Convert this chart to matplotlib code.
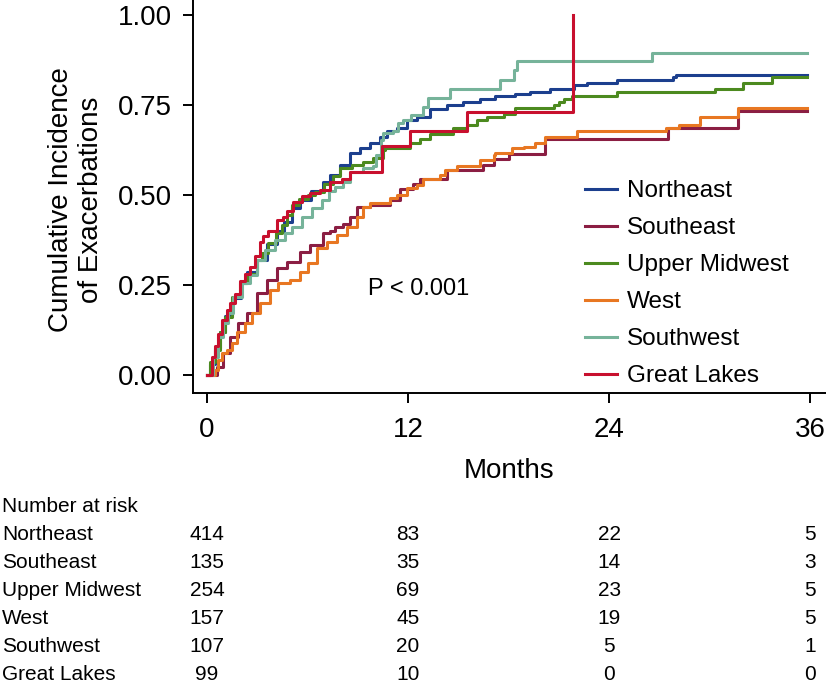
import numpy as np
import matplotlib
matplotlib.use("Agg")
import matplotlib.pyplot as plt
from matplotlib.transforms import blended_transform_factory

plt.rcParams['font.family'] = ['Liberation Sans', 'DejaVu Sans']

# ---------------- data ----------------
END_T = 35.8

ne_t = [0, 0.2, 0.5, 0.8, 1.1, 1.5, 2.0, 2.4, 3.0, 3.6, 4.2, 4.6, 5.1, 5.55, 6.2, 6.94, 7.34, 7.94,
        8.54, 9.13, 9.73, 10.33, 10.73, 11.33, 11.92, 12.52, 13.31, 14.31, 15.3, 16.3, 17.2, 18.4,
        19.3, 20.5, 21.9, 22.7, 24.5, 27.8, 28.0]
ne_v = [0, 0.03, 0.075, 0.12, 0.165, 0.215, 0.255, 0.285, 0.32, 0.365, 0.40, 0.425, 0.465, 0.486,
        0.51, 0.537, 0.556, 0.583, 0.616, 0.632, 0.645, 0.662, 0.679, 0.685, 0.708, 0.718, 0.738,
        0.75, 0.759, 0.766, 0.774, 0.78, 0.787, 0.796, 0.805, 0.812, 0.821, 0.827, 0.833]

se_t = [0, 0.58, 0.97, 1.37, 1.87, 2.37, 2.97, 3.56, 4.16, 4.76, 5.55, 6.15, 6.94, 7.34, 7.64, 8.1,
        8.54, 8.94, 9.73, 10.93, 11.5, 12.3, 12.7, 14.3, 16.5, 17.1, 18.0, 20.2, 27.5, 31.7]
se_v = [0, 0.023, 0.06, 0.106, 0.144, 0.171, 0.227, 0.264, 0.296, 0.315, 0.343, 0.361, 0.394, 0.40,
        0.412, 0.42, 0.44, 0.468, 0.472, 0.486, 0.516, 0.532, 0.546, 0.569, 0.583, 0.599, 0.614,
        0.657, 0.685, 0.734]

um_t = [0, 0.2, 0.48, 0.8, 1.07, 1.47, 1.97, 2.37, 2.97, 3.3, 3.66, 4.1, 4.46, 4.8, 5.06, 5.5, 6.0,
        6.45, 7.0, 7.5, 7.94, 8.64, 9.33, 9.93, 10.5, 10.63, 12.12, 12.7, 13.3, 14.7, 15.5, 16.1,
        16.7, 17.7, 18.4, 20.7, 21.0, 21.3, 21.8, 24.5, 30.3, 32.0, 33.7]
um_v = [0, 0.035, 0.07, 0.12, 0.162, 0.218, 0.255, 0.282, 0.319, 0.34, 0.366, 0.395, 0.417, 0.445,
        0.472, 0.49, 0.50, 0.509, 0.53, 0.553, 0.574, 0.583, 0.593, 0.602, 0.625, 0.632, 0.644,
        0.657, 0.669, 0.685, 0.694, 0.708, 0.717, 0.724, 0.741, 0.75, 0.759, 0.768, 0.776, 0.787,
        0.796, 0.812, 0.829]

we_t = [0, 0.48, 0.68, 0.88, 1.2, 1.47, 1.77, 2.27, 2.67, 3.16, 3.76, 4.26, 4.96, 5.55, 6.05, 6.55,
        7.15, 7.74, 8.34, 8.94, 9.33, 9.73, 10.93, 11.33, 11.92, 12.52, 12.9, 13.9, 14.2, 14.9, 16.3,
        17.1, 17.2, 18.2, 18.9, 19.6, 20.2, 22.1, 27.4, 28.2, 29.4, 31.7]
we_v = [0, 0.014, 0.042, 0.06, 0.07, 0.088, 0.12, 0.144, 0.171, 0.199, 0.236, 0.255, 0.264, 0.287,
        0.31, 0.352, 0.37, 0.389, 0.412, 0.44, 0.468, 0.479, 0.491, 0.5, 0.519, 0.528, 0.546, 0.556,
        0.569, 0.58, 0.597, 0.611, 0.616, 0.63, 0.634, 0.645, 0.662, 0.679, 0.685, 0.696, 0.7175,
        0.741]

sw_t = [0, 0.38, 0.68, 0.97, 1.27, 1.57, 2.07, 2.57, 2.97, 3.46, 4.06, 4.66, 5.06, 5.65, 6.25, 6.85,
        7.3, 7.64, 8.1, 8.54, 9.3, 9.9, 10.1, 10.4, 10.5, 11.1, 11.4, 11.7, 12.2, 12.9, 13.2, 14.5,
        17.5, 18.3, 18.5, 26.55]
sw_v = [0, 0.051, 0.106, 0.144, 0.171, 0.218, 0.255, 0.278, 0.319, 0.347, 0.375, 0.394, 0.412, 0.44,
        0.463, 0.486, 0.51, 0.523, 0.537, 0.565, 0.574, 0.58, 0.611, 0.653, 0.672, 0.678, 0.699,
        0.708, 0.722, 0.745, 0.77, 0.796, 0.821, 0.847, 0.872, 0.895]

gl_t = [0, 0.28, 0.48, 0.68, 0.88, 1.18, 1.37, 1.67, 1.97, 2.27, 2.57, 2.87, 3.16, 3.36, 3.66, 4.16,
        4.56, 4.8, 5.15, 5.65, 6.15, 6.75, 7.34, 8.04, 8.54, 10.43, 12.12, 15.5, 21.85]
gl_v = [0, 0.05, 0.08, 0.115, 0.153, 0.18, 0.2, 0.225, 0.26, 0.28, 0.30, 0.33, 0.37, 0.385, 0.40,
        0.43, 0.44, 0.455, 0.48, 0.497, 0.505, 0.514, 0.535, 0.546, 0.565, 0.636, 0.679, 0.731, 1.0]

regions = ["Northeast", "Southeast", "Upper Midwest", "West", "Southwest", "Great Lakes"]
colors = ["#1c3f8e", "#8b1e43", "#4c8a1f", "#e87722", "#76b39a", "#c8102e"]
risk_times = [0, 12, 24, 36]
at_risk = [[414, 83, 22, 5],
           [135, 35, 14, 3],
           [254, 69, 23, 5],
           [157, 45, 19, 5],
           [107, 20, 5, 1],
           [99, 10, 0, 0]]

# ---------------- figure ----------------
W, H = 826, 686
fig = plt.figure(figsize=(W / 100, H / 100), dpi=100)
ax = fig.add_axes([193 / W, 1 - 393 / H, 1 - 193 / W, 393 / H])

series = [(ne_t, ne_v), (se_t, se_v), (um_t, um_v), (we_t, we_v), (sw_t, sw_v), (gl_t, gl_v)]
for (t, v), name, c in zip(series, regions, colors):
    if name == "Great Lakes":      # last subject had an event -> curve jumps to 1
        tt, vv = t, v
    else:
        tt, vv = t + [END_T], v + [v[-1]]
    ax.step(tt, vv, where="post", color=c, lw=2.2, label=name)

ax.set_xlim(-0.84, 36.95)
ax.set_ylim(-0.05, 1.042)
ax.set_xticks(risk_times)
ax.set_yticks([0, 0.25, 0.5, 0.75, 1.0])
ax.set_yticklabels(["%.2f" % y for y in [0, 0.25, 0.5, 0.75, 1.0]])
for s in ["top", "right"]:
    ax.spines[s].set_visible(False)
for s in ["left", "bottom"]:
    ax.spines[s].set_linewidth(1.4)
ax.tick_params(axis="both", length=7, width=1.4, labelsize=20)
ax.tick_params(axis="y", pad=8)
ax.tick_params(axis="x", pad=10)
ax.set_xlabel("Months", fontsize=20, labelpad=11)

fig.text(76 / W, 1 - 200 / H, "Cumulative Incidence\nof Exacerbations", rotation=90,
         ha="center", va="center", multialignment="center", fontsize=20, linespacing=1.15)

ax.text(12.6, 0.24, "P < 0.001", fontsize=17, ha="center", va="center")

ax.legend(loc="upper left", bbox_to_anchor=(585 / W, 1 - 180 / H), bbox_transform=fig.transFigure,
          frameon=False, fontsize=17.5, handlelength=1.3, handletextpad=0.42, labelspacing=0.62,
          borderpad=0, borderaxespad=0)

# ---------------- number at risk table ----------------
tr = blended_transform_factory(ax.transData, fig.transFigure)
fig.text(2 / W, 1 - 506 / H, "Number at risk", fontsize=15, ha="left", va="center")
for i, (name, row) in enumerate(zip(regions, at_risk)):
    y = 1 - (535 + i * 27.8) / H
    fig.text(2 / W, y, name, fontsize=15, ha="left", va="center")
    for x, n in zip(risk_times, row):
        ax.text(x, y, str(n), transform=tr, fontsize=15, ha="center", va="center", clip_on=False)

fig.savefig("out.png", dpi=100)
